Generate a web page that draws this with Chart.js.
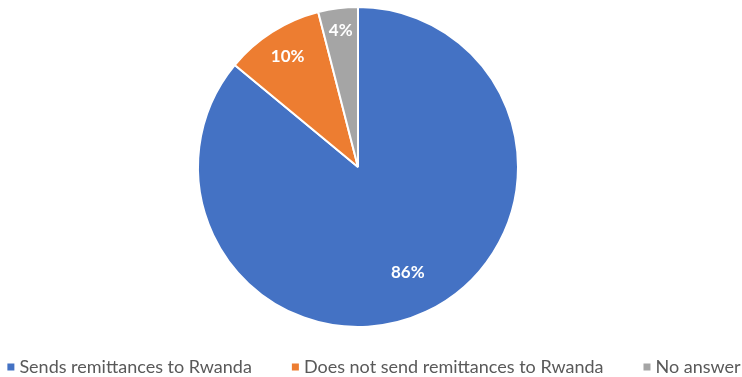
<!DOCTYPE html>
<html>
<head>
<meta charset="utf-8">
<script src="https://cdn.jsdelivr.net/npm/chart.js@4.4.1/dist/chart.umd.min.js"></script>
<style>
  html, body { margin: 0; padding: 0; background: #ffffff; }
  #wrap { width: 742px; height: 377px; position: relative; }
</style>
</head>
<body>
<div id="wrap"><canvas id="chart" width="742" height="377"></canvas></div>
<script>
// Survey answers: share of respondents (%)
const categories = ['Sends remittances to Rwanda', 'Does not send remittances to Rwanda', 'No answer'];
const shares = [86, 10, 4];
const sliceColors = ['#4472C4', '#ED7D31', '#A5A5A5'];

// Percentage labels inside each slice, placed along the slice's mid-angle
const sliceLabels = {
  id: 'sliceLabels',
  afterDatasetsDraw(chart, args, opts) {
    const ctx = chart.ctx;
    const meta = chart.getDatasetMeta(0);
    const values = chart.data.datasets[0].data;
    ctx.save();
    ctx.fillStyle = '#ffffff';
    ctx.font = 'bold 17px Lato, "Open Sans", sans-serif';
    ctx.textAlign = 'center';
    ctx.textBaseline = 'middle';
    meta.data.forEach((arc, i) => {
      const p = arc.getProps(['x', 'y', 'startAngle', 'endAngle', 'outerRadius'], true);
      const mid = (p.startAngle + p.endAngle) / 2;
      const r = p.outerRadius * opts.radial[i];
      ctx.fillText(values[i] + '%', p.x + Math.cos(mid) * r, p.y + Math.sin(mid) * r);
    });
    ctx.restore();
  }
};

// Single-row legend along the bottom edge
const bottomLegend = {
  id: 'bottomLegend',
  afterDraw(chart, args, opts) {
    const ctx = chart.ctx;
    const labels = chart.data.labels;
    const colors = chart.data.datasets[0].backgroundColor;
    ctx.save();
    ctx.font = opts.font;
    ctx.textBaseline = 'middle';
    const widths = labels.map(t => ctx.measureText(t).width);
    const itemW = widths.map(w => opts.box + opts.boxGap + w);
    const total = itemW.reduce((a, b) => a + b, 0) + opts.itemGap * (labels.length - 1);
    let x = (chart.width - total) / 2 + opts.shift;
    const y = opts.y;
    labels.forEach((t, i) => {
      ctx.fillStyle = colors[i];
      ctx.fillRect(x, y - opts.box / 2, opts.box, opts.box);
      ctx.fillStyle = opts.color;
      ctx.fillText(t, x + opts.box + opts.boxGap, y);
      x += itemW[i] + opts.itemGap;
    });
    ctx.restore();
  }
};

new Chart(document.getElementById('chart'), {
  type: 'pie',
  data: {
    labels: categories,
    datasets: [{
      data: shares,
      backgroundColor: sliceColors,
      borderColor: '#ffffff',
      borderWidth: 2
    }]
  },
  options: {
    responsive: false,
    animation: false,
    layout: { padding: { top: 6, bottom: 49, left: 0, right: 26 } },
    plugins: {
      legend: { display: false },
      tooltip: { enabled: false },
      sliceLabels: { radial: [0.73, 0.82, 0.86] },
      bottomLegend: {
        font: '18px Lato, "Open Sans", sans-serif',
        color: '#595959',
        box: 7,
        boxGap: 5,
        itemGap: 40,
        y: 367,
        shift: 3
      }
    }
  },
  plugins: [sliceLabels, bottomLegend]
});
</script>
</body>
</html>
